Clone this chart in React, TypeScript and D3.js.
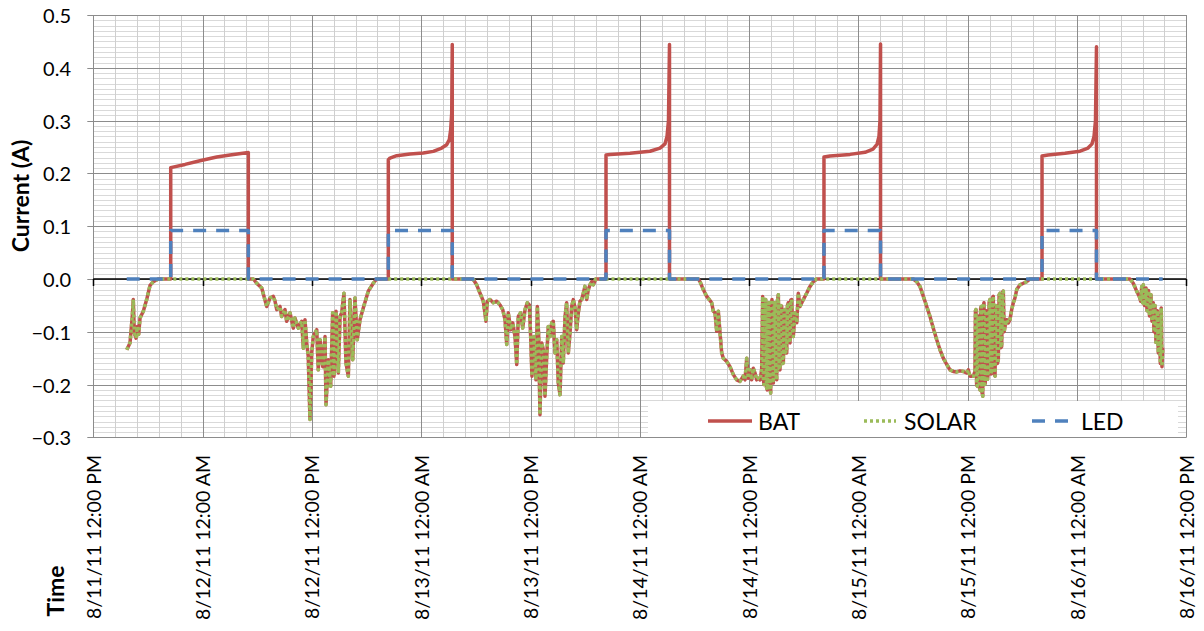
import React from 'react';
import * as d3 from 'd3';

type Pt = [number, number];

// time in hours after 8/11/11 12:00 PM, current in A
const day0: Pt[] = [[3.67,-0.134],[4.03,-0.121],[4.28,-0.071],[4.39,-0.039],[4.5,-0.102],[4.69,-0.112],[4.83,-0.09],[4.98,-0.105],[5.13,-0.074],[5.49,-0.061],[5.86,-0.039],[6.23,-0.012],[6.59,-0.005],[7.14,0]];
const day1: Pt[] = [[17.57,0],[17.94,-0.008],[18.49,-0.017],[19.04,-0.052],[19.4,-0.036],[19.76,-0.033],[19.95,-0.042],[20.14,-0.058],[20.5,-0.052],[20.68,-0.071],[21.05,-0.058],[21.23,-0.08],[21.6,-0.064],[21.96,-0.093],[22.14,-0.074],[22.51,-0.093],[22.88,-0.08],[23.06,-0.131],[23.24,-0.077],[23.43,-0.121],[23.6,-0.147],[23.79,-0.266],[23.98,-0.14],[24.15,-0.109],[24.53,-0.096],[24.7,-0.172],[24.89,-0.115],[25.19,-0.166],[25.44,-0.109],[25.55,-0.238],[25.8,-0.153],[26.06,-0.203],[26.28,-0.064],[26.43,-0.184],[26.65,-0.061],[26.9,-0.178],[27.09,-0.071],[27.27,-0.064],[27.52,-0.027],[27.74,-0.159],[28.0,-0.184],[28.18,-0.039],[28.48,-0.153],[28.73,-0.036],[28.98,-0.115],[29.28,-0.077],[29.64,-0.055],[30.19,-0.023],[30.74,-0.008],[31.11,0]];
const day2: Pt[] = [[41.54,0],[41.72,-0.001],[42.09,-0.011],[42.46,-0.027],[42.82,-0.042],[43.11,-0.08],[43.26,-0.042],[43.55,-0.039],[43.92,-0.045],[44.29,-0.042],[44.65,-0.049],[44.95,-0.058],[45.2,-0.077],[45.39,-0.124],[45.56,-0.064],[45.83,-0.096],[46.05,-0.083],[46.3,-0.109],[46.49,-0.162],[46.66,-0.071],[46.92,-0.064],[47.14,-0.093],[47.4,-0.058],[47.65,-0.045],[47.87,-0.049],[48.02,-0.109],[48.16,-0.184],[48.39,-0.109],[48.6,-0.191],[48.75,-0.052],[48.9,-0.109],[49.04,-0.257],[49.23,-0.121],[49.41,-0.134],[49.59,-0.222],[49.78,-0.147],[49.95,-0.09],[50.14,-0.109],[50.33,-0.083],[50.5,-0.08],[50.69,-0.14],[50.88,-0.115],[51.05,-0.197],[51.24,-0.219],[51.43,-0.109],[51.6,-0.159],[51.79,-0.071],[51.97,-0.045],[52.15,-0.14],[52.34,-0.102],[52.52,-0.052],[52.7,-0.039],[52.89,-0.055],[53.07,-0.096],[53.25,-0.064],[53.43,-0.042],[53.62,-0.039],[53.8,-0.027],[53.98,-0.014],[54.17,-0.039],[54.35,-0.02],[54.53,-0.011],[54.72,-0.005],[54.9,-0.011],[55.16,0]];
const day3: Pt[] = [[66.42,0],[66.61,-0.005],[66.97,-0.02],[67.35,-0.033],[67.63,-0.039],[67.89,-0.045],[68.07,-0.061],[68.26,-0.064],[68.44,-0.099],[68.62,-0.061],[68.81,-0.102],[68.99,-0.14],[69.17,-0.15],[69.54,-0.156],[69.9,-0.166],[70.27,-0.181],[70.64,-0.191],[71.0,-0.194],[71.36,-0.184],[71.55,-0.191],[71.74,-0.15],[71.91,-0.188],[72.1,-0.172],[72.28,-0.191],[72.46,-0.169],[72.65,-0.178],[72.83,-0.191],[73.01,-0.188],[73.2,-0.191],[73.38,-0.172],[73.49,-0.033],[73.57,-0.19],[73.64,-0.2],[73.73,-0.06],[73.82,-0.039],[73.91,-0.205],[74.0,-0.21],[74.09,-0.05],[74.18,-0.045],[74.27,-0.2],[74.37,-0.216],[74.44,-0.06],[74.51,-0.039],[74.58,-0.19],[74.66,-0.197],[74.75,-0.05],[74.84,-0.045],[74.93,-0.18],[75.03,-0.191],[75.12,-0.04],[75.21,-0.03],[75.3,-0.17],[75.39,-0.172],[75.48,-0.05],[75.58,-0.052],[75.67,-0.16],[75.76,-0.159],[75.85,-0.06],[75.94,-0.058],[76.03,-0.14],[76.13,-0.14],[76.21,-0.05],[76.3,-0.045],[76.4,-0.12],[76.49,-0.121],[76.58,-0.04],[76.68,-0.039],[76.77,-0.1],[76.85,-0.109],[77.04,-0.064],[77.23,-0.083],[77.4,-0.027],[77.59,-0.052],[77.95,-0.039],[78.32,-0.027],[78.69,-0.014],[79.05,-0.005],[79.42,0]];
const day4: Pt[] = [[90.03,0],[90.4,-0.005],[90.76,-0.014],[91.13,-0.033],[91.5,-0.052],[91.86,-0.071],[92.22,-0.093],[92.6,-0.115],[92.96,-0.134],[93.32,-0.15],[93.7,-0.162],[94.06,-0.172],[94.42,-0.175],[94.79,-0.176],[95.15,-0.174],[95.52,-0.175],[95.89,-0.178],[96.07,-0.172],[96.25,-0.184],[96.62,-0.184],[96.8,-0.175],[96.85,-0.06],[96.91,-0.058],[96.98,-0.2],[97.05,-0.203],[97.13,-0.07],[97.21,-0.071],[97.28,-0.205],[97.35,-0.21],[97.42,-0.055],[97.49,-0.052],[97.57,-0.215],[97.65,-0.222],[97.72,-0.05],[97.79,-0.045],[97.86,-0.2],[97.93,-0.197],[98.01,-0.06],[98.09,-0.064],[98.17,-0.19],[98.26,-0.178],[98.35,-0.045],[98.45,-0.039],[98.54,-0.18],[98.64,-0.172],[98.72,-0.035],[98.81,-0.033],[98.9,-0.18],[99.0,-0.184],[99.09,-0.05],[99.18,-0.052],[99.27,-0.16],[99.36,-0.153],[99.45,-0.03],[99.55,-0.027],[99.64,-0.13],[99.73,-0.128],[99.82,-0.025],[99.91,-0.023],[100.0,-0.1],[100.1,-0.09],[100.28,-0.077],[100.46,-0.083],[100.64,-0.077],[100.83,-0.058],[101.01,-0.045],[101.19,-0.036],[101.38,-0.02],[101.74,-0.011],[102.11,-0.008],[102.48,-0.005],[102.84,0]];
const day5: Pt[] = [[113.82,0],[114.18,-0.008],[114.55,-0.023],[114.84,-0.033],[114.99,-0.042],[115.11,-0.014],[115.19,-0.045],[115.28,-0.011],[115.41,-0.05],[115.58,-0.017],[115.69,-0.06],[115.85,-0.022],[115.96,-0.07],[116.12,-0.03],[116.23,-0.08],[116.38,-0.045],[116.45,-0.1],[116.56,-0.05],[116.67,-0.12],[116.82,-0.06],[116.93,-0.14],[117.04,-0.07],[117.15,-0.16],[117.25,-0.055],[117.33,-0.166],[117.41,-0.13]];

const night1: Pt[] = [[8.5,0.211],[10.07,0.217],[11.71,0.224],[13.55,0.231],[15.01,0.235],[17.02,0.2395]];
const night2: Pt[] = [[32.39,0.226],[32.57,0.229],[33.31,0.2335],[34.77,0.2367],[36.23,0.2386],[37.33,0.2417],[38.25,0.248],[38.8,0.2544],[39.09,0.264],[39.24,0.283],[39.35,0.314],[39.41,0.444]];
const night3: Pt[] = [[56.29,0.235],[56.73,0.236],[58.92,0.238],[61.12,0.242],[62.22,0.248],[62.77,0.256],[62.99,0.27],[63.15,0.3],[63.26,0.444]];
const night4: Pt[] = [[80.22,0.231],[80.88,0.233],[83.08,0.236],[84.73,0.24],[85.6,0.246],[86.04,0.255],[86.26,0.27],[86.37,0.3],[86.43,0.445]];
const night5: Pt[] = [[104.16,0.233],[104.82,0.235],[106.68,0.238],[108.33,0.242],[109.21,0.248],[109.65,0.256],[109.87,0.27],[110.03,0.3],[110.14,0.44]];

const ledLevels = [0.092, 0.092, 0.092, 0.092, 0.092];

const dayCharge = [day0, day1, day2, day3, day4, day5];
const nightBat = [night1, night2, night3, night4, night5];

const yTickValues = [-0.3, -0.2, -0.1, 0.0, 0.1, 0.2, 0.3, 0.4, 0.5];
const xTickLabels = [
  '8/11/11 12:00 PM', '8/12/11 12:00 AM', '8/12/11 12:00 PM', '8/13/11 12:00 AM',
  '8/13/11 12:00 PM', '8/14/11 12:00 AM', '8/14/11 12:00 PM', '8/15/11 12:00 AM',
  '8/15/11 12:00 PM', '8/16/11 12:00 AM', '8/16/11 12:00 PM',
];
const seriesNames = ['BAT', 'SOLAR', 'LED'];

const FONT = "Lato, 'Open Sans', sans-serif";
const RED = '#C0504D';
const GREEN = '#9BBB59';
const BLUE = '#4F81BD';

export default function App() {
  const W = 1204, H = 631;
  const x = d3.scaleLinear().domain([0, 120]).range([93.3, 1186.3]);
  const y = d3.scaleLinear().domain([-0.3, 0.5]).range([437.4, 15]);
  const line = d3.line<Pt>().x(d => x(d[0])).y(d => y(d[1]));
  const px = (v: number) => Math.round(v) + 0.5;

  const bat: Pt[] = [];
  const solar: Pt[] = [];
  dayCharge.forEach((d, i) => {
    bat.push(...d);
    solar.push(...d);
    const n = nightBat[i];
    if (n) {
      bat.push([n[0][0], 0], ...n, [n[n.length - 1][0], 0]);
    }
  });
  const led: Pt[] = [[day0[0][0], 0]];
  nightBat.forEach((n, i) => {
    const s = n[0][0], e = n[n.length - 1][0];
    led.push([s, 0], [s, ledLevels[i]], [e, ledLevels[i]], [e, 0]);
  });
  led.push([day5[day5.length - 1][0], 0]);

  const minorY = d3.range(-30, 51).map(v => v / 100);
  const majorY = d3.range(-3, 6).map(v => v / 10);
  const minorX = d3.range(0, 51).map(v => v * 2.4);
  const majorX = d3.range(0, 11).map(v => v * 12);

  const [x0, x1] = x.range();
  const [yb, yt] = y.range();

  return (
    <svg width={W} height={H} style={{ position: 'absolute', left: 0, top: 0, background: '#fff' }} fontFamily={FONT}>
      <rect width={W} height={H} fill="#fff" />
      <g stroke="#D9D9D9" strokeWidth={1}>
        {minorY.map((v, i) => <line key={'my' + i} x1={x0} x2={x1} y1={px(y(v))} y2={px(y(v))} />)}
        {minorX.map((v, i) => <line key={'mx' + i} x1={px(x(v))} x2={px(x(v))} y1={yt} y2={yb} stroke="#CFCFCF" />)}
      </g>
      <g stroke="#8C8C8C" strokeWidth={1}>
        {majorY.map((v, i) => <line key={'Y' + i} x1={x0 - 6} x2={x1} y1={px(y(v))} y2={px(y(v))} />)}
        {majorX.map((v, i) => <line key={'X' + i} x1={px(x(v))} x2={px(x(v))} y1={yt} y2={yb} />)}
      </g>
      <g stroke="#000" strokeWidth={1.5}>
        <line x1={x0} x2={x1} y1={y(0)} y2={y(0)} />
        {majorX.map((v, i) => <line key={'t' + i} x1={px(x(v))} x2={px(x(v))} y1={y(0)} y2={y(0) + 7} />)}
      </g>
      <g fontSize={20} fill="#000" textAnchor="end">
        {yTickValues.map((v, i) => (
          <text key={i} x={71} y={y(v)} dominantBaseline="central">{d3.format('.1f')(v)}</text>
        ))}
      </g>
      <g fontSize={19.5} fill="#000" textAnchor="end">
        {majorX.map((v, i) => (
          <text key={i} transform={`translate(${x(v)},455) rotate(-90)`} dominantBaseline="central">{xTickLabels[i]}</text>
        ))}
      </g>
      <text transform="translate(20,196) rotate(-90)" textAnchor="middle" dominantBaseline="central" fontSize={23} fontWeight="bold">Current (A)</text>
      <text transform="translate(55,591) rotate(-90)" textAnchor="middle" dominantBaseline="central" fontSize={23} fontWeight="bold">Time</text>
      <path d={line(bat) || ''} fill="none" stroke={RED} strokeWidth={3.5} strokeLinejoin="round" />
      <path d={line(solar) || ''} fill="none" stroke={GREEN} strokeWidth={3.5} strokeDasharray="3,3" strokeLinejoin="round" />
      <path d={line(led) || ''} fill="none" stroke={BLUE} strokeWidth={3.5} strokeDasharray="13,10" strokeLinejoin="round" />
      <g>
        <rect x={648} y={401} width={530} height={36} fill="#fff" />
        <line x1={708} x2={752} y1={421} y2={421} stroke={RED} strokeWidth={3.5} />
        <line x1={864} x2={896} y1={421} y2={421} stroke={GREEN} strokeWidth={3.5} strokeDasharray="3,3" />
        <line x1={1032} x2={1071} y1={421} y2={421} stroke={BLUE} strokeWidth={3.5} strokeDasharray="13,10" />
        <g fontSize={23} fill="#000" dominantBaseline="central">
          <text x={758} y={421}>{seriesNames[0]}</text>
          <text x={904} y={421}>{seriesNames[1]}</text>
          <text x={1081} y={421}>{seriesNames[2]}</text>
        </g>
      </g>
    </svg>
  );
}
